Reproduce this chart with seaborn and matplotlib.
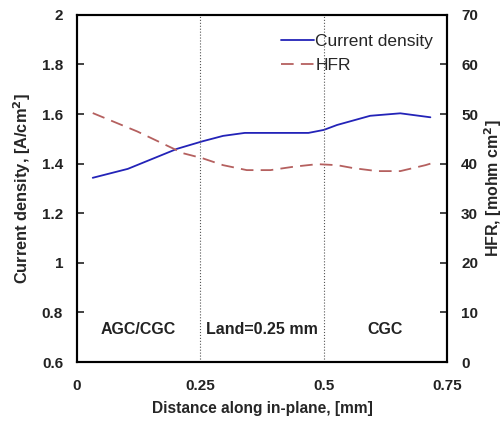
import numpy as np
import pandas as pd
import matplotlib
matplotlib.use('Agg')
import matplotlib.pyplot as plt
import seaborn as sns
from matplotlib.lines import Line2D

# current density (left axis)
cd_x = [0.032, 0.103, 0.203, 0.254, 0.296, 0.340, 0.469, 0.500, 0.527, 0.594, 0.655, 0.716]
cd_y = [1.343, 1.379, 1.460, 1.490, 1.512, 1.524, 1.524, 1.536, 1.556, 1.593, 1.603, 1.587]

# HFR (right axis)
hfr_x = [0.032, 0.122, 0.215, 0.254, 0.296, 0.344, 0.392, 0.440, 0.487, 0.527, 0.560, 0.608, 0.655, 0.706, 0.716]
hfr_y = [50.2, 46.5, 42.1, 41.1, 39.7, 38.7, 38.7, 39.4, 39.9, 39.7, 39.1, 38.5, 38.5, 39.7, 40.0]

regions = ['AGC/CGC', 'Land=0.25 mm', 'CGC']
region_x = [0.125, 0.375, 0.625]
boundaries = [0.25, 0.5]

df_cd = pd.DataFrame({'x': cd_x, 'y': cd_y})
df_hfr = pd.DataFrame({'x': hfr_x, 'y': hfr_y})

sns.set_style("white")
plt.rcParams['font.family'] = ['Liberation Sans', 'DejaVu Sans']

fig = plt.figure(figsize=(5.03, 4.24), dpi=100)
ax = fig.add_axes([0.153, 0.146, 0.736, 0.819])
ax2 = ax.twinx()

sns.lineplot(data=df_cd, x='x', y='y', ax=ax, color='#2323b8', lw=1.3, legend=False)
sns.lineplot(data=df_hfr, x='x', y='y', ax=ax2, color='#b5605f', lw=1.3, legend=False)
ax2.lines[0].set_dashes([7, 4])

for b in boundaries:
    ax.axvline(b, color='#555555', lw=0.8, ls=':')

for t, xx in zip(regions, region_x):
    ax.text(xx, 0.733, t, ha='center', va='center', fontsize=11.5, fontweight='bold', color='#222222')

ax.set_xlim(0, 0.75)
ax.set_ylim(0.6, 2.0)
ax2.set_ylim(0, 70)
ax.set_xticks([0, 0.25, 0.5, 0.75])
ax.set_xticklabels(['0', '0.25', '0.5', '0.75'])
ax.set_yticks(np.arange(0.6, 2.01, 0.2))
ax.set_yticklabels(['0.6', '0.8', '1', '1.2', '1.4', '1.6', '1.8', '2'])
ax2.set_yticks(range(0, 71, 10))

for a in (ax, ax2):
    for s in a.spines.values():
        s.set_linewidth(1.5)
        s.set_color('black')
    a.tick_params(labelsize=11, width=1.2, colors='#222222')
    for lab in a.get_yticklabels() + a.get_xticklabels():
        lab.set_fontweight('bold')
ax.tick_params(axis='y', direction='in', length=5, pad=10)
ax2.tick_params(axis='y', direction='in', length=5, pad=10)
ax.tick_params(axis='x', length=0, pad=12)

ax.set_xlabel('Distance along in-plane, [mm]', fontsize=11.2, fontweight='bold', labelpad=6)
ax.set_ylabel('Current density, [A/cm$^\\mathbf{2}$]', fontsize=11.8, fontweight='bold', labelpad=6)
ax2.set_ylabel('HFR, [mohm cm$^\\mathbf{2}$]', fontsize=11.5, fontweight='bold', labelpad=3)

handles = [Line2D([], [], color='#2323b8', lw=1.3),
           Line2D([], [], color='#b5605f', lw=1.3, dashes=[7, 4])]
ax.legend(handles, ['Current density', 'HFR'], loc='upper right', frameon=False,
          fontsize=12.5, handlelength=1.9, handletextpad=0.1, borderaxespad=0.4,
          labelspacing=0.5, bbox_to_anchor=(1.0, 0.985))

fig.savefig('out.png', dpi=100)
